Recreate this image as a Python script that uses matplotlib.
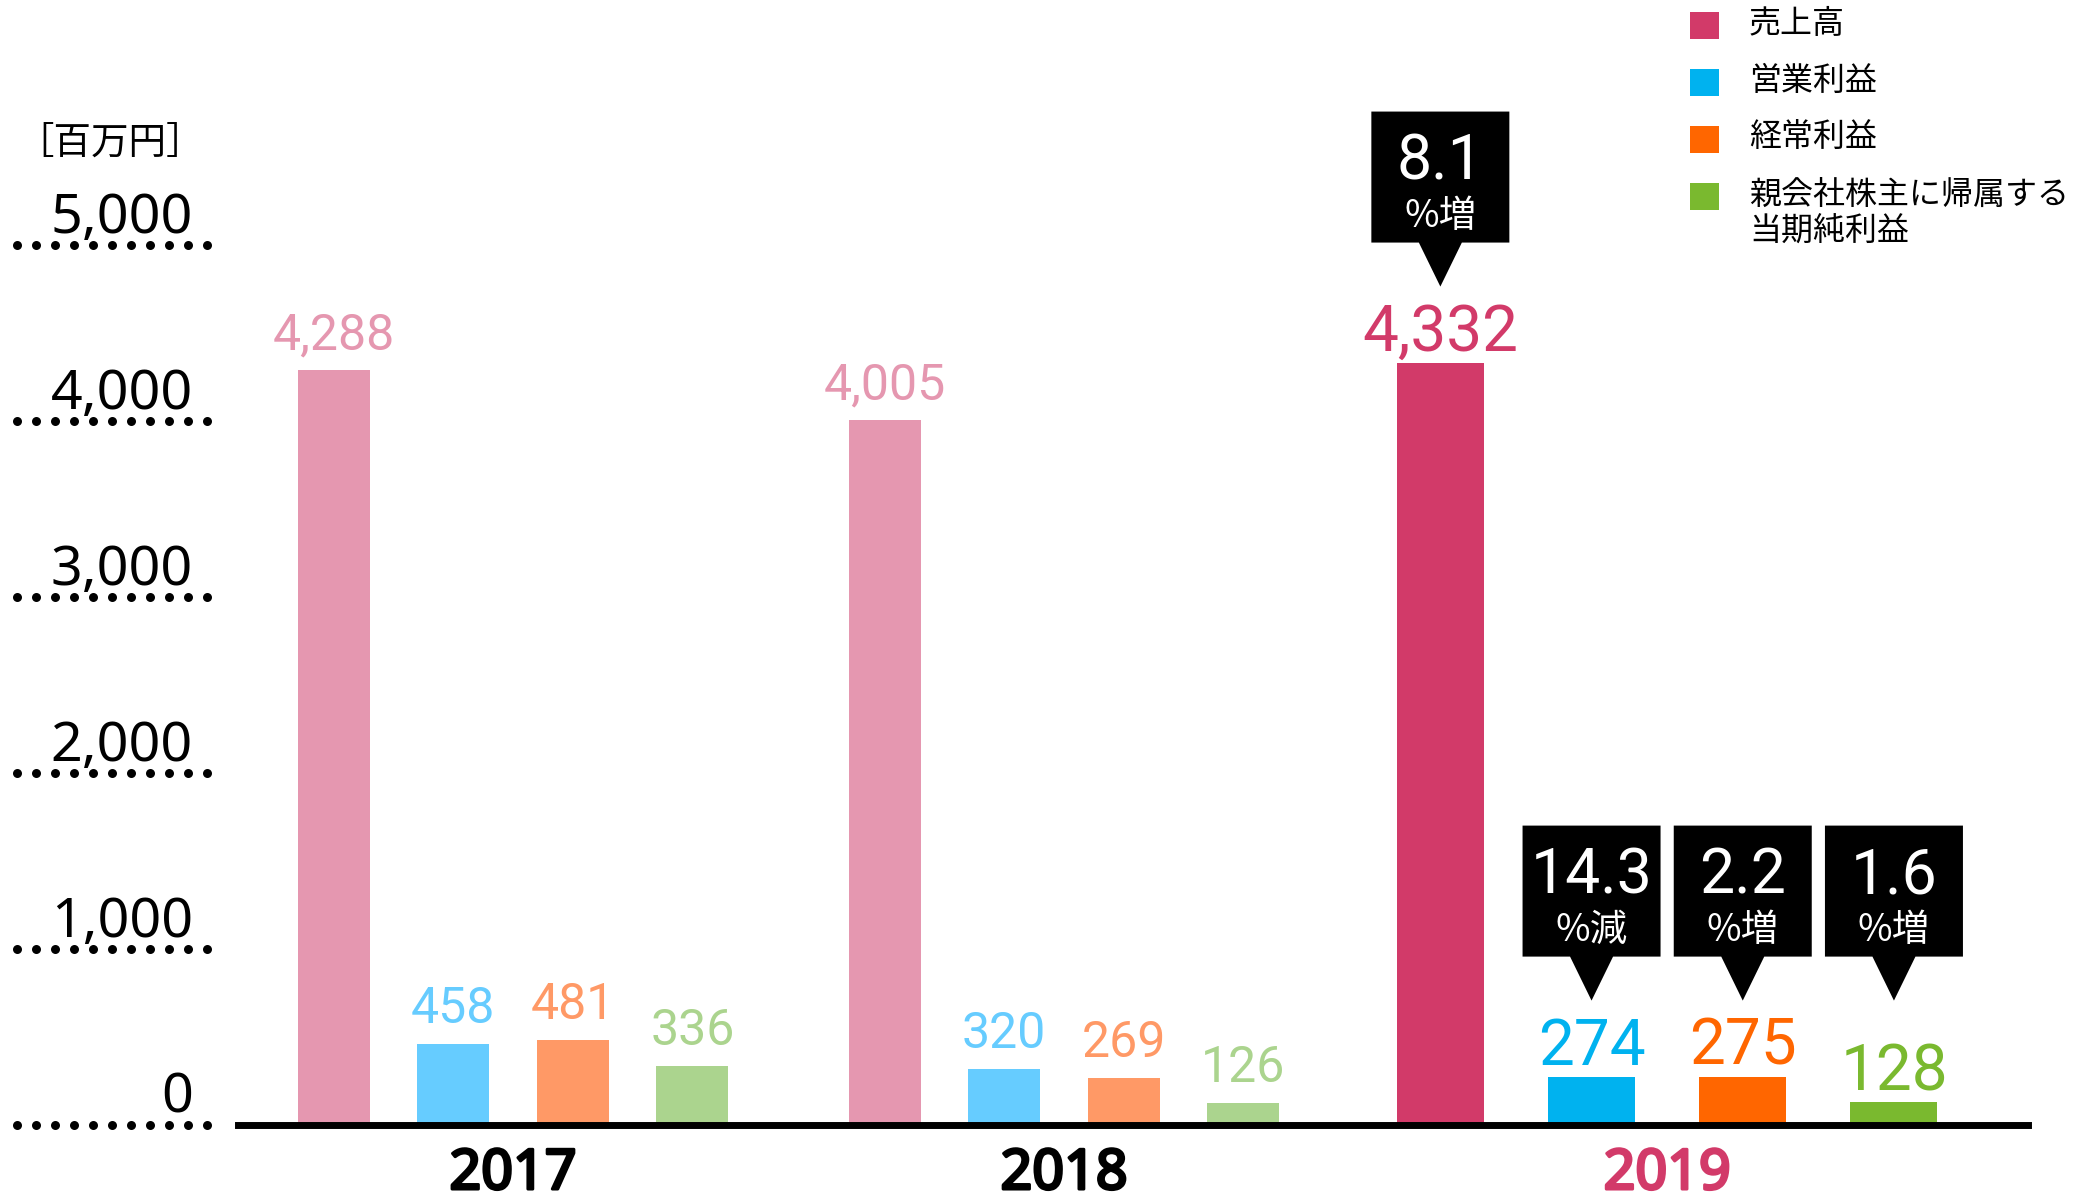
import numpy as np
import matplotlib
matplotlib.use("Agg")
import matplotlib.pyplot as plt
import matplotlib.patheffects as pe
from matplotlib.patches import Polygon, Rectangle
from matplotlib.transforms import ScaledTranslation, blended_transform_factory

# データ（百万円）
years = ["2017", "2018", "2019"]
series = ["売上高", "営業利益", "経常利益", "親会社株主に帰属する\n当期純利益"]
values = [
    [4288, 458, 481, 336],
    [4005, 320, 269, 126],
    [4332, 274, 275, 128],
]
change_pct = ["8.1", "14.3", "2.2", "1.6"]
change_word = ["増", "減", "増", "増"]
yticks = [0, 1000, 2000, 3000, 4000, 5000]

# 色
colors_full = ["#D23A69", "#00B2EF", "#FF6600", "#7AB92F"]
colors_fade = ["#E597B0", "#66CCFF", "#FF9966", "#ABD48E"]
year_colors = ["black", "black", "#D23A69"]

fig = plt.figure(figsize=(20.92, 11.98), dpi=100)
ax = fig.add_axes([0.11353, 0.060935, 0.85588, 0.73456])
ax.set_xlim(-0.5, 2.7495)
ax.set_ylim(0, 5000)
ax.axis("off")

group_x = [0, 1, 2.0946]
spacing = [0.217, 0.217, 0.2744]
widths = [0.131, 0.131, 0.158]

for g, yr in enumerate(years):
    latest = g == len(years) - 1
    cols = colors_full if latest else colors_fade
    xs = group_x[g] + (np.arange(4) - 1.5) * spacing[g]
    ax.bar(xs, values[g], width=widths[g], color=cols, zorder=2)
    for i, v in enumerate(values[g]):
        ax.annotate(f"{v:,}", xy=(xs[i], v), xytext=(0, 12 if latest else 21),
                    textcoords="offset pixels", ha="center", va="baseline",
                    fontsize=46 if latest else 36, family="Roboto", color=cols[i])
    ax.annotate(yr, xy=(group_x[g], 0), xytext=(0, -64), textcoords="offset pixels",
                ha="center", va="baseline", fontsize=40,
                family="Noto Sans", color=year_colors[g],
                annotation_clip=False,
                path_effects=[pe.withStroke(linewidth=2.2, foreground=year_colors[g])])

# 吹き出し（2019年の前年比）
xs19 = group_x[2] + (np.arange(4) - 1.5) * spacing[2]
for i in range(4):
    top = values[2][0] if i == 0 else max(values[2][1:])
    trans = fig.dpi_scale_trans + ScaledTranslation(xs19[i], top, ax.transData)
    verts = np.array([[0, 76], [-21.5, 120], [-69, 120], [-69, 251],
                      [69, 251], [69, 120], [21.5, 120]]) / 100.0
    ax.add_patch(Polygon(verts, closed=True, facecolor="black", edgecolor="none",
                         transform=trans, clip_on=False, zorder=3))
    ax.annotate(change_pct[i], xy=(xs19[i], top), xytext=(0, 183),
                textcoords="offset pixels", ha="center", va="baseline",
                fontsize=45, family="Roboto", color="white", zorder=4)
    ax.annotate("%" + change_word[i], xy=(xs19[i], top), xytext=(0, 146),
                textcoords="offset pixels", ha="center", va="center",
                fontsize=27, family="Noto Sans CJK JP", color="white", zorder=4)

# 基準線
ax.axhline(0, color="black", linewidth=5, clip_on=False, zorder=3)

# 目盛り（点線＋数字）
btrans = blended_transform_factory(ax.transAxes, ax.transData)
dot_x = np.linspace(-0.12315, -0.01703, 11)
for t in yticks:
    ax.scatter(dot_x, [t] * len(dot_x), s=42, color="black", transform=btrans,
               clip_on=False, linewidths=0)
    ax.annotate(f"{t:,}", xy=(-0.02485, t), xycoords=("axes fraction", "data"),
                xytext=(0, 12), textcoords="offset pixels", ha="right", va="baseline",
                fontsize=40, family="Noto Sans", color="black", annotation_clip=False)

fig.text(110 / 2092, 1 - 144 / 1198, "［百万円］", ha="center", va="center",
         fontsize=27, family="Noto Sans CJK JP")

# 凡例
sq_tops = [12, 69, 126, 183]
for i, name in enumerate(series):
    y0 = sq_tops[i]
    fig.add_artist(Rectangle((1690 / 2092, 1 - (y0 + 27) / 1198), 29 / 2092, 27 / 1198,
                             transform=fig.transFigure, facecolor=colors_full[i],
                             edgecolor="none"))
    for j, line in enumerate(name.split("\n")):
        fig.text(1749 / 2092, 1 - (y0 + 12 + 36 * j) / 1198, line, ha="left",
                 va="center", fontsize=23, family="Noto Sans CJK JP")

fig.savefig("out.png", dpi=100)
